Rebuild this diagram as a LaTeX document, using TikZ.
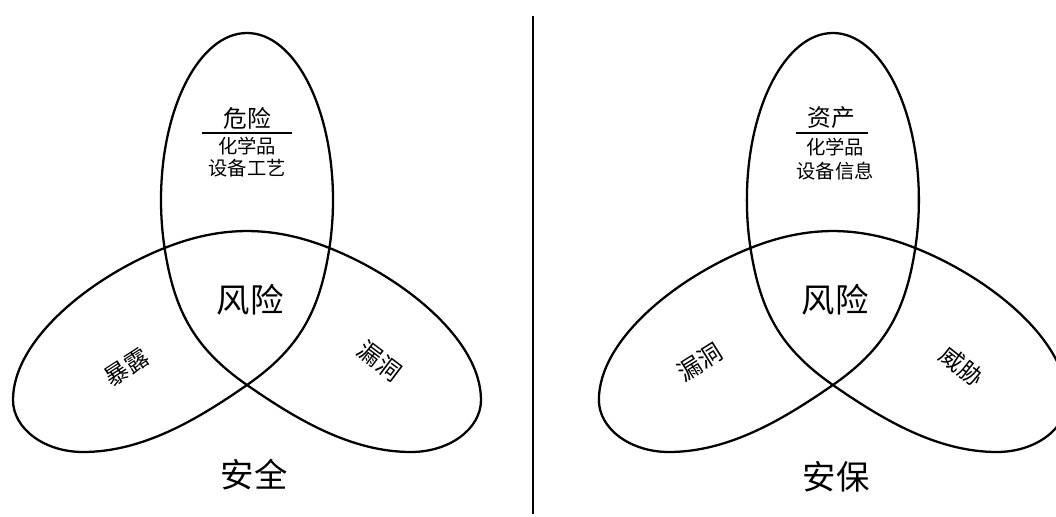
\documentclass[tikz,border=0pt]{standalone}
\usepackage{fontspec}
\newfontfamily\cjk{Noto Sans CJK SC}
% one closed self-crossing curve (three lobes), pixel units, y downwards
\newcommand\trefoilpath{%
 (164.6,248)
 .. controls (162.2,232.4) and (161,216.2) .. (161,200)
 .. controls (161,107.8) and (199.5,33) .. (247,33)
 .. controls (294.5,33) and (333,107.8) .. (333,200)
 .. controls (333,216.2) and (331.8,232.4) .. (329.4,248)
 .. controls (319.7,311.2) and (299.5,348.5) .. (247,385)
 .. controls (197.8,419.2) and (143,452) .. (83,452)
 .. controls (44.3,452) and (13,428.7) .. (13,400)
 .. controls (13,340) and (90.2,277.6) .. (164.6,248)
 .. controls (221.3,225.4) and (272.7,225.4) .. (329.4,248)
 .. controls (403.8,277.6) and (481,340) .. (481,400)
 .. controls (481,428.7) and (449.7,452) .. (411,452)
 .. controls (351,452) and (296.2,419.2) .. (247,385)
 .. controls (194.5,348.5) and (174.3,311.2) .. (164.6,248) -- cycle}
\tikzset{
  lobe/.style={line width=1.3pt, black, line join=round},
  bigtxt/.style={font=\cjk\fontsize{19}{19}\selectfont, inner sep=0pt},
  headtxt/.style={font=\cjk\fontsize{13.5}{13.5}\selectfont, inner sep=0pt},
  smalltxt/.style={font=\cjk\fontsize{11}{11}\selectfont, inner sep=0pt},
  lobetxt/.style={font=\cjk\fontsize{13.5}{13.5}\selectfont, inner sep=0pt},
  rule/.style={line width=0.9pt, black}
}
\begin{document}
\begin{tikzpicture}[x=0.02cm, y=-0.02cm]
\useasboundingbox (0,0) rectangle (1056,517);
\clip (0,0) rectangle (1056,517);
% left diagram
\draw[lobe] \trefoilpath;
\node[bigtxt] (riskL) at (250,300) {风险};
\node[bigtxt] (safetyL) at (254,475) {安全};
\node[headtxt] (hazard) at (247,118) {危险};
\coordinate (hzA) at (202,133);
\coordinate (hzB) at (292,133);
\draw[rule] (hzA) -- (hzB);
\node[smalltxt] (chemL) at (247,146) {化学品};
\node[smalltxt] (equipL) at (247,168) {设备工艺};
\node[lobetxt, rotate=33] (expo) at (127,367) {暴露};
\node[lobetxt, rotate=-37] (vulnL) at (380,361) {漏洞};
% divider
\coordinate (divT) at (533,16);
\coordinate (divB) at (533,514);
\draw[line width=1.5pt] (divT) -- (divB);
% right diagram
\begin{scope}[xshift=11.72cm]
\draw[lobe] \trefoilpath;
\end{scope}
\node[bigtxt] (riskR) at (835,300) {风险};
\node[bigtxt] (securR) at (836,477) {安保};
\node[headtxt] (asset) at (831,118) {资产};
\coordinate (asA) at (796,133);
\coordinate (asB) at (868,133);
\draw[rule] (asA) -- (asB);
\node[smalltxt] (chemR) at (835,147) {化学品};
\node[smalltxt] (equipR) at (835,171) {设备信息};
\node[lobetxt, rotate=32] (vulnR) at (700,362) {漏洞};
\node[lobetxt, rotate=-38] (threat) at (962,366) {威胁};
\end{tikzpicture}
\end{document}
